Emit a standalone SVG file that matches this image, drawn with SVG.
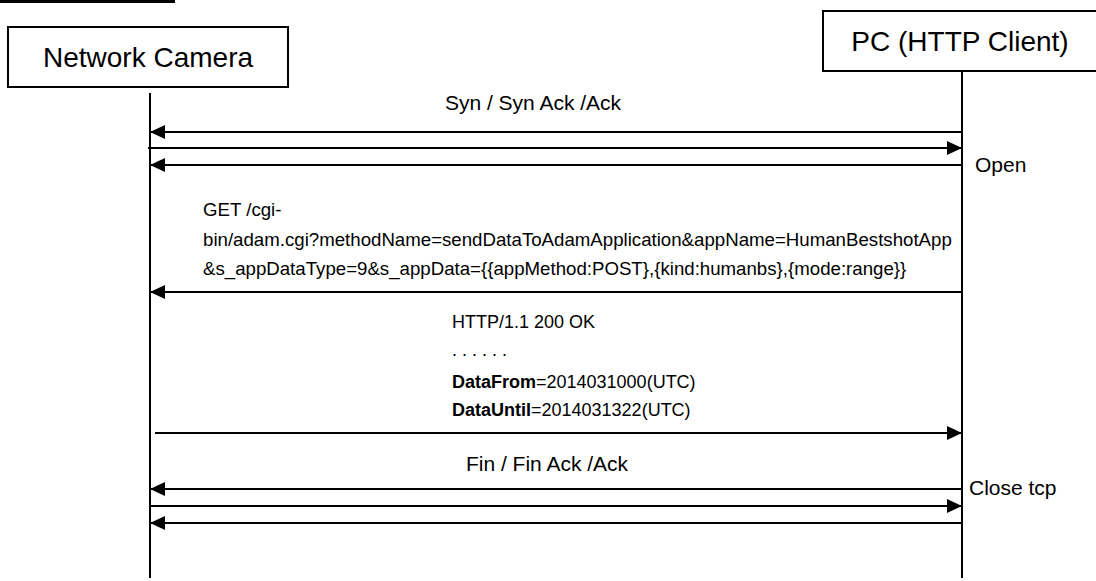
<svg xmlns="http://www.w3.org/2000/svg" width="1096" height="581" viewBox="0 0 1096 581">
<style>
text{font-family:"Liberation Sans",Arial,sans-serif;fill:#000}
.s{font-size:18.67px}
.m{font-size:21px}
.h{font-size:18px}
.b{font-size:28px}
.box{fill:#fff;stroke:#000;stroke-width:2}
.life{stroke:#000;stroke-width:2}
.msg{stroke:#000;stroke-width:2;fill:none}
.l{marker-end:url(#ah)}
</style>
<defs>
<marker id="ah" markerUnits="userSpaceOnUse" markerWidth="16" markerHeight="14" refX="15" refY="7" orient="auto">
<path d="M0,0 L15,7 L0,14 Z" fill="#000"/>
</marker>
</defs>
<rect x="0" y="0" width="175" height="3" fill="#000"/>
<g id="camera">
<rect class="box" x="8" y="27" width="280" height="60"/>
<text class="b" x="148" y="67" text-anchor="middle">Network Camera</text>
<line class="life" x1="150" y1="93" x2="150" y2="578"/>
</g>
<g id="pc">
<rect class="box" x="823" y="11" width="280" height="60"/>
<text class="b" x="960" y="51" text-anchor="middle">PC (HTTP Client)</text>
<line class="life" x1="962" y1="71" x2="962" y2="578"/>
</g>
<g id="connectors">
<line class="msg l" x1="962" y1="132" x2="150" y2="132"/>
<line class="msg l" x1="148" y1="148" x2="962" y2="148"/>
<line class="msg l" x1="962" y1="165" x2="150" y2="165"/>
<line class="msg l" x1="962" y1="292" x2="150" y2="292"/>
<line class="msg l" x1="155" y1="433" x2="962" y2="433"/>
<line class="msg l" x1="962" y1="489" x2="150" y2="489"/>
<line class="msg l" x1="150" y1="506" x2="962" y2="506"/>
<line class="msg l" x1="962" y1="523" x2="150" y2="523"/>
</g>
<g id="labels">
<text class="m" x="533" y="110" text-anchor="middle">Syn / Syn Ack /Ack</text>
<text class="m" x="975" y="172">Open</text>
<text class="s" x="203" y="216">GET /cgi-</text>
<text class="s" x="203" y="246">bin/adam.cgi?methodName=sendDataToAdamApplication&amp;appName=HumanBestshotApp</text>
<text class="s" x="203" y="275">&amp;s_appDataType=9&amp;s_appData={{appMethod:POST},{kind:humanbs},{mode:range}}</text>
<text class="h" x="452" y="328">HTTP/1.1 200 OK</text>
<text class="h" x="452" y="356">. . . . . .</text>
<text class="h" x="452" y="388"><tspan font-weight="bold">DataFrom</tspan>=2014031000(UTC)</text>
<text class="h" x="452" y="416"><tspan font-weight="bold">DataUntil</tspan>=2014031322(UTC)</text>
<text class="m" x="547" y="471" text-anchor="middle">Fin / Fin Ack /Ack</text>
<text class="m" x="969" y="495">Close tcp</text>
</g>
</svg>
